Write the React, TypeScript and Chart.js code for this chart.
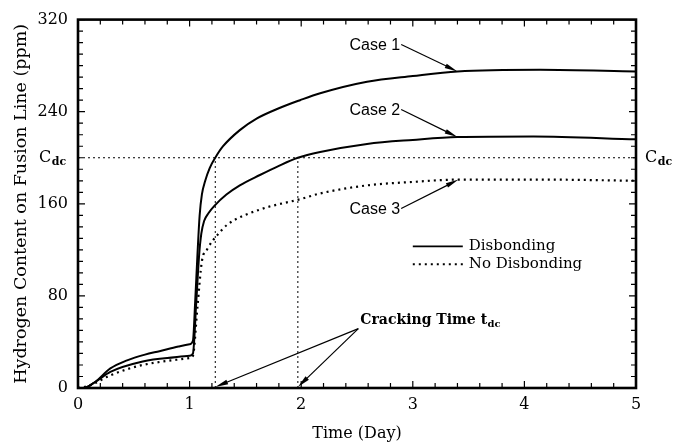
import React, { useEffect, useRef } from "react";
import { Chart, registerables } from "chart.js";

Chart.register(...registerables);

// ---------- data ----------
const timeCase1 = [0, 0.05, 0.15, 0.29, 0.44, 0.6, 0.73, 0.9, 1.0, 1.03, 1.05, 1.07, 1.09, 1.11, 1.14, 1.18, 1.23, 1.3, 1.45, 1.6, 1.8, 1.99, 2.17, 2.59, 3.0, 3.4, 4.14, 5.0];
const hydrogenCase1 = [0, 0, 5, 17, 24, 29, 32, 36, 38, 41, 75, 115, 150, 168, 180, 191, 200, 210, 224, 234, 243, 250, 256, 266, 271, 275, 276.5, 275];

const timeCase2 = [0, 0.05, 0.15, 0.29, 0.58, 0.8, 1.0, 1.03, 1.06, 1.085, 1.105, 1.13, 1.17, 1.22, 1.33, 1.45, 1.63, 1.8, 1.97, 2.17, 2.59, 3.0, 3.4, 4.08, 5.0];
const hydrogenCase2 = [0, 0, 5, 14, 23, 26, 28, 30, 75, 115, 134, 145, 152, 158, 168, 176, 185, 193, 200, 205, 212, 215.5, 218, 218.5, 216];

const timeCase3 = [0, 0.1, 0.29, 0.58, 1.0, 1.03, 1.07, 1.11, 1.16, 1.25, 1.34, 1.63, 1.99, 2.17, 2.59, 3.0, 3.4, 4.2, 5.0];
const hydrogenCase3 = [0, 2, 11, 20, 26, 28, 70, 110, 121, 133, 142, 155, 164, 169, 176, 179, 181, 181, 180];

const cdcLevel = 200;
const crackTimes = [1.23, 1.97];
const caseLabels = ["Case 1", "Case 2", "Case 3"];
const legendNames = ["Disbonding", "No Disbonding"];
const xTitle = "Time (Day)";
const yTitle = "Hydrogen Content on Fusion Line (ppm)";
const crackLabel = "Cracking Time t";
const crackSub = "dc";

const SERIF = '"DejaVu Serif", "Liberation Serif", serif';
const SANS = '"Liberation Sans", Arial, sans-serif';

const pts = (xs: number[], ys: number[]) => xs.map((x, i) => ({ x, y: ys[i] }));

function arrow(ctx: CanvasRenderingContext2D, x1: number, y1: number, x2: number, y2: number) {
  const ang = Math.atan2(y2 - y1, x2 - x1);
  const len = 13;
  const hw = 2.4;
  ctx.beginPath();
  ctx.moveTo(x1, y1);
  ctx.lineTo(x2 - Math.cos(ang) * len * 0.6, y2 - Math.sin(ang) * len * 0.6);
  ctx.lineWidth = 1.2;
  ctx.stroke();
  ctx.beginPath();
  ctx.moveTo(x2, y2);
  ctx.lineTo(x2 - Math.cos(ang) * len + Math.sin(ang) * hw, y2 - Math.sin(ang) * len - Math.cos(ang) * hw);
  ctx.lineTo(x2 - Math.cos(ang) * len - Math.sin(ang) * hw, y2 - Math.sin(ang) * len + Math.cos(ang) * hw);
  ctx.closePath();
  ctx.fill();
}

function subText(ctx: CanvasRenderingContext2D, x: number, y: number, main: string, sub: string, mainFont: string, subFont: string) {
  ctx.font = mainFont;
  ctx.textAlign = "left";
  ctx.textBaseline = "middle";
  ctx.fillText(main, x, y);
  const w = ctx.measureText(main).width;
  ctx.font = subFont;
  ctx.fillText(sub, x + w + 0.5, y + 4);
}

const decorPlugin = {
  id: "decor",
  beforeDatasetsDraw(chart: any) {
    const { ctx, chartArea: a, scales } = chart;
    const x = scales.x, y = scales.y;
    ctx.save();
    ctx.strokeStyle = "#000";
    ctx.lineWidth = 1;
    ctx.setLineDash([2, 3]);
    const yc = y.getPixelForValue(cdcLevel);
    ctx.beginPath();
    ctx.moveTo(a.left, yc);
    ctx.lineTo(a.right, yc);
    ctx.stroke();
    crackTimes.forEach((t) => {
      const px = x.getPixelForValue(t);
      ctx.beginPath();
      ctx.moveTo(px, a.bottom);
      ctx.lineTo(px, yc);
      ctx.stroke();
    });
    ctx.restore();
  },
  afterDraw(chart: any) {
    const { ctx, chartArea: a, scales } = chart;
    const x = scales.x, y = scales.y;
    ctx.save();
    ctx.strokeStyle = "#000";
    ctx.fillStyle = "#000";
    ctx.setLineDash([]);

    // inner ticks
    ctx.lineWidth = 1.2;
    for (let i = 0; i <= 25; i++) {
      const px = x.getPixelForValue(i * 0.2);
      const L = i % 5 === 0 ? 7 : 5;
      ctx.beginPath();
      ctx.moveTo(px, a.bottom); ctx.lineTo(px, a.bottom - L);
      ctx.moveTo(px, a.top); ctx.lineTo(px, a.top + L);
      ctx.stroke();
    }
    for (let v = 0; v <= 320; v += 10) {
      const py = y.getPixelForValue(v);
      const L = v % 80 === 0 ? 7 : 5;
      ctx.beginPath();
      ctx.moveTo(a.left, py); ctx.lineTo(a.left + L, py);
      ctx.moveTo(a.right, py); ctx.lineTo(a.right - L, py);
      ctx.stroke();
    }

    // frame
    ctx.lineWidth = 2.6;
    ctx.strokeRect(a.left, a.top, a.right - a.left, a.bottom - a.top);

    // Cdc labels
    const yc = y.getPixelForValue(cdcLevel);
    subText(ctx, a.left - 39, yc, "C", "dc", `16px ${SERIF}`, `bold 11px ${SERIF}`);
    subText(ctx, a.right + 9, yc, "C", "dc", `16px ${SERIF}`, `bold 11px ${SERIF}`);

    // case labels + arrows
    const caseText = [
      { t: 2.66, v: 297.5, tipT: 3.4, tipV: 275 },
      { t: 2.66, v: 241, tipT: 3.4, tipV: 218 },
      { t: 2.66, v: 155, tipT: 3.41, tipV: 181 },
    ];
    caseText.forEach((c, i) => {
      const px = x.getPixelForValue(c.t);
      const py = y.getPixelForValue(c.v);
      ctx.font = `16px ${SANS}`;
      ctx.textAlign = "center";
      ctx.textBaseline = "middle";
      ctx.fillText(caseLabels[i], px, py);
      const w = ctx.measureText(caseLabels[i]).width;
      arrow(ctx, px + w / 2 + 1, py - 1, x.getPixelForValue(c.tipT), y.getPixelForValue(c.tipV));
    });

    // cracking time label
    const cx = x.getPixelForValue(2.53);
    const cy = y.getPixelForValue(58.5);
    subText(ctx, cx, cy, crackLabel, crackSub, `bold 14px ${SERIF}`, `bold 10px ${SERIF}`);
    const ox = cx - 2, oy = cy + 8;
    crackTimes.forEach((t) => {
      arrow(ctx, ox, oy, x.getPixelForValue(t), a.bottom - 1);
    });

    // legend
    const lx1 = x.getPixelForValue(3.0);
    const lx2 = lx1 + 50;
    const ly = [y.getPixelForValue(123), y.getPixelForValue(107.5)];
    ctx.lineWidth = 1.8;
    ctx.beginPath();
    ctx.moveTo(lx1, ly[0]); ctx.lineTo(lx2, ly[0]);
    ctx.stroke();
    ctx.setLineDash([2, 4]);
    ctx.beginPath();
    ctx.moveTo(lx1, ly[1]); ctx.lineTo(lx2, ly[1]);
    ctx.stroke();
    ctx.setLineDash([]);
    ctx.font = `15px ${SERIF}`;
    ctx.textAlign = "left";
    ctx.textBaseline = "middle";
    ctx.fillText(legendNames[0], lx2 + 6, ly[0]);
    ctx.fillText(legendNames[1], lx2 + 6, ly[1]);

    ctx.restore();
  },
};

export default function App() {
  const ref = useRef<HTMLCanvasElement | null>(null);
  useEffect(() => {
    if (!ref.current) return;
    const lineBase = {
      borderColor: "#000",
      backgroundColor: "#000",
      borderWidth: 2,
      pointRadius: 0,
      fill: false,
      cubicInterpolationMode: "monotone" as const,
    };
    const chart = new Chart(ref.current, {
      type: "line",
      data: {
        datasets: [
          { ...lineBase, label: caseLabels[0], data: pts(timeCase1, hydrogenCase1) },
          { ...lineBase, label: caseLabels[1], data: pts(timeCase2, hydrogenCase2) },
          { ...lineBase, label: caseLabels[2], data: pts(timeCase3, hydrogenCase3), borderDash: [2, 4], borderWidth: 2.2 },
        ],
      },
      options: {
        animation: false,
        responsive: false,
        maintainAspectRatio: false,
        layout: { padding: { left: 0, right: 42, top: 16, bottom: 0 } },
        plugins: { legend: { display: false }, tooltip: { enabled: false } },
        scales: {
          x: {
            type: "linear",
            min: 0,
            max: 5,
            ticks: { stepSize: 1, color: "#000", padding: 7, maxRotation: 0, font: { family: SERIF, size: 16 } },
            grid: { display: false, drawTicks: false },
            border: { display: false },
            title: { display: true, text: xTitle, color: "#000", font: { family: SERIF, size: 16 }, padding: { top: 0, bottom: 4 } },
            afterFit: (s: any) => { s.height = 59; },
          },
          y: {
            min: 0,
            max: 320,
            ticks: { stepSize: 80, color: "#000", padding: 10, font: { family: SERIF, size: 16 } },
            grid: { display: false, drawTicks: false },
            border: { display: false },
            title: { display: true, text: yTitle, color: "#000", font: { family: SERIF, size: 17.5 }, padding: { top: 11, bottom: 0 } },
            afterFit: (s: any) => { s.width = 78; },
          },
        },
      },
      plugins: [decorPlugin],
    });
    return () => chart.destroy();
  }, []);
  return (
    <div style={{ position: "fixed", left: 0, top: 0, width: 678, height: 447, background: "#fff" }}>
      <canvas ref={ref} width={678} height={447} style={{ width: 678, height: 447 }} />
    </div>
  );
}
